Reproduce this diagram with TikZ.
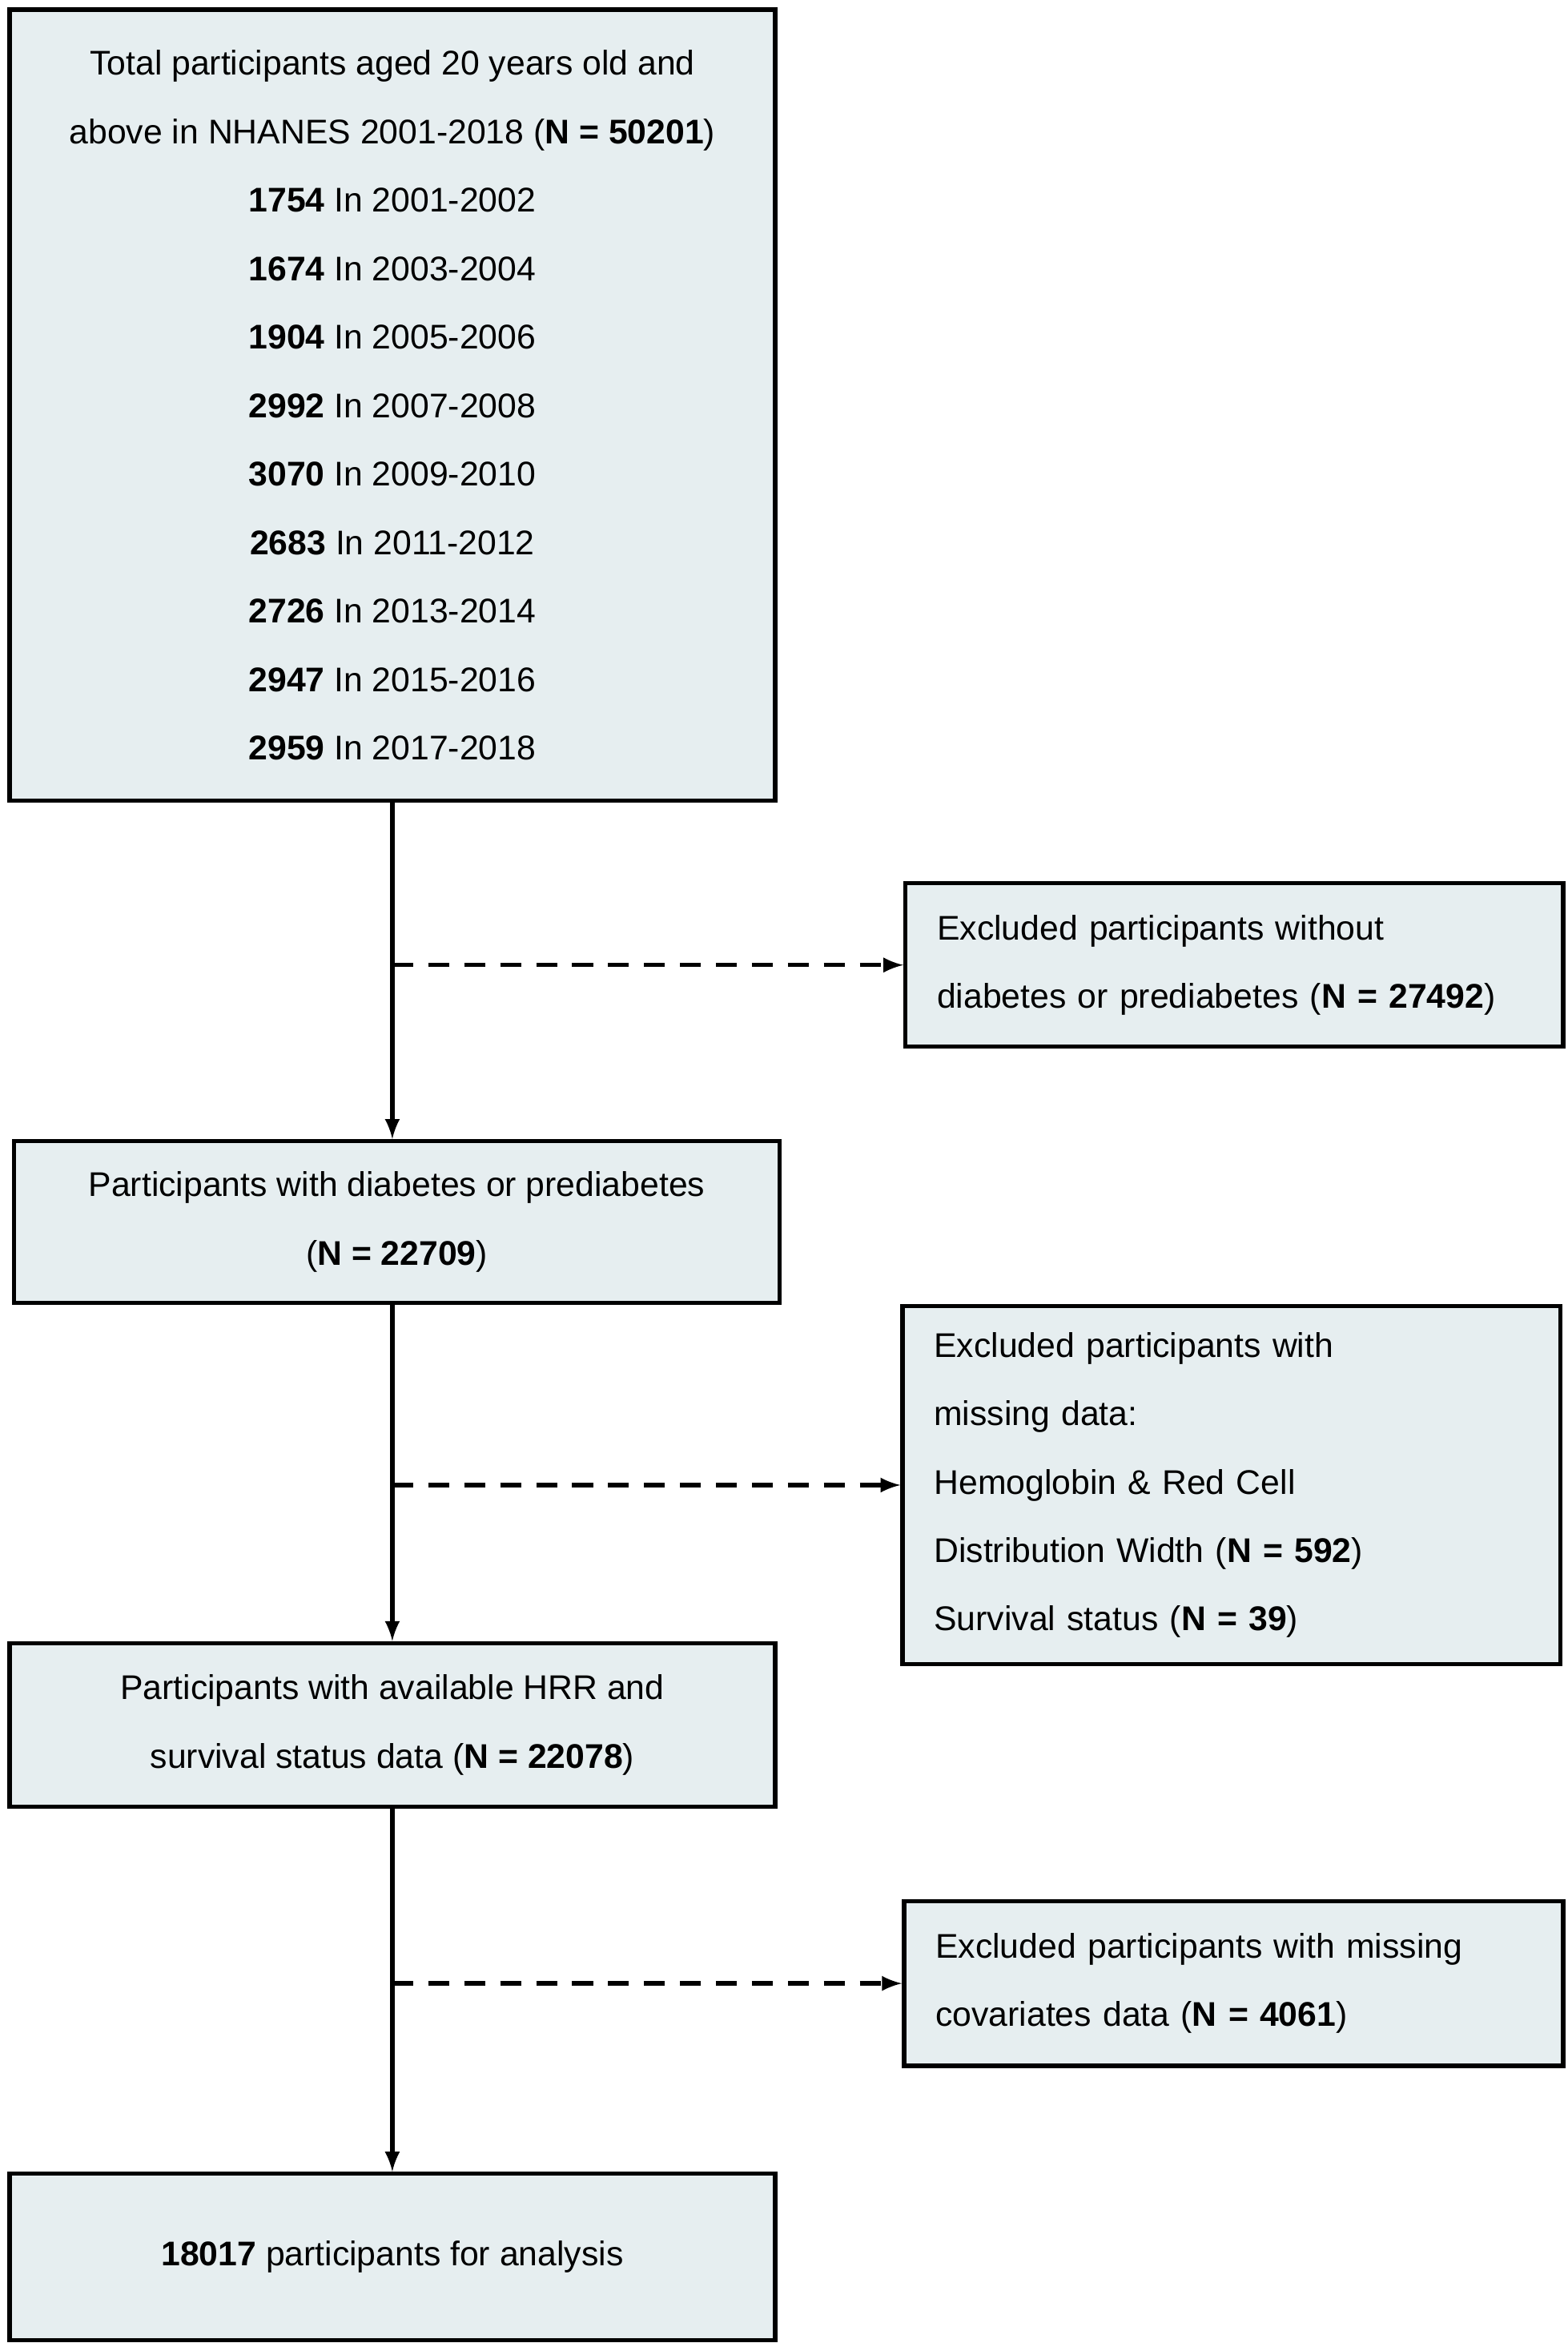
\documentclass[tikz,border=0pt]{standalone}
\usepackage{fontspec}
\setmainfont{Liberation Sans}
\usepackage{tikz}
\usetikzlibrary{arrows}
\usetikzlibrary{positioning}
\definecolor{boxfill}{HTML}{E6EEF0}

\begin{document}
\begin{tikzpicture}[x=0.02cm, y=-0.02cm,
	box/.style={draw, fill=boxfill, line width=1.6pt, anchor=north west, align=center, font=\fontsize{13pt}{26pt}\selectfont},
	excl/.style={box, align=left, inner xsep=0.42cm},
	flow/.style={line width=1.6pt, -latex},
	skip/.style={line width=1.6pt, -latex, dash pattern=on 0.28cm off 0.2cm}]
	\useasboundingbox (0,0) rectangle (1046,1566);
	\node[box, minimum width=10.22cm, minimum height=10.56cm] (total) at (5,5) {Total participants aged 20 years old and\\above in NHANES 2001-2018 (\textbf{N = 50201})\\\textbf{1754} In 2001-2002\\\textbf{1674} In 2003-2004\\\textbf{1904} In 2005-2006\\\textbf{2992} In 2007-2008\\\textbf{3070} In 2009-2010\\\textbf{2683} In 2011-2012\\\textbf{2726} In 2013-2014\\\textbf{2947} In 2015-2016\\\textbf{2959} In 2017-2018};
	\node[excl, minimum height=2.18cm, text width=7.94cm] (nodiab) at (603,588) {Excluded participants without\\diabetes or prediabetes (\textbf{N = 27492})};
	\node[box, minimum width=10.22cm, minimum height=2.16cm] (diab) at (8,760) {Participants with diabetes or prediabetes\\(\textbf{N = 22709})};
	\node[excl, minimum height=4.78cm, text width=7.94cm] (missing) at (601,870) {Excluded participants with\\missing data:\\Hemoglobin \& Red Cell\\Distribution Width (\textbf{N = 592})\\Survival status (\textbf{N = 39})};
	\node[box, minimum width=10.22cm, minimum height=2.18cm] (hrr) at (5,1095) {Participants with available HRR and\\survival status data (\textbf{N = 22078})};
	\node[excl, minimum height=2.2cm, text width=7.96cm] (covar) at (602,1267) {Excluded participants with missing\\covariates data (\textbf{N = 4061})};
	\node[box, minimum width=10.22cm, minimum height=2.22cm] (final) at (5,1449) {\textbf{18017} participants for analysis};
	% main flow
	\draw[flow] (total.south) -- (total.south |- diab.north);
	\draw[flow] (total.south |- diab.south) -- (total.south |- hrr.north);
	\draw[flow] (hrr.south) -- (hrr.south |- final.north);
	% exclusions
	\draw[skip] (nodiab.west -| total.south) -- (nodiab.west);
	\draw[skip] (missing.west -| total.south) -- (missing.west);
	\draw[skip] (covar.west -| total.south) -- (covar.west);
\end{tikzpicture}
\end{document}
